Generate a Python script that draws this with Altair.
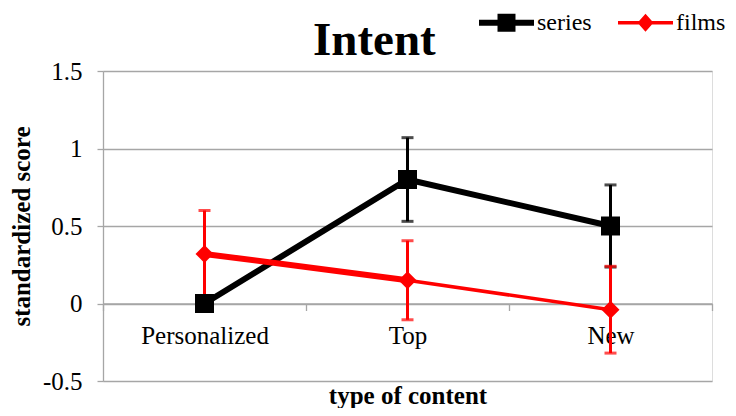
import altair as alt
import pandas as pd

categories = ["Personalized", "Top", "New"]
series_names = ["series", "films"]
series_mean = [0.0, 0.80, 0.50]
series_err = [0.0, 0.27, 0.265]
films_mean = [0.32, 0.15, -0.04]
films_err = [0.28, 0.255, 0.28]
y_ticks = [-0.5, 0, 0.5, 1, 1.5]

rows = []
for name, means, errs in [("series", series_mean, series_err), ("films", films_mean, films_err)]:
    for c, m, e in zip(categories, means, errs):
        rows.append({"type": name, "content": c, "score": m, "lo": m - e, "hi": m + e})
df = pd.DataFrame(rows)

FONT = "Liberation Serif, Times New Roman, serif"
GRID = "#a6a6a6"
W, H = 609, 310

x_axis = alt.Axis(
    title="type of content", orient="bottom", offset=-H * 0.25, tickBand="extent",
    labelAngle=0, labelFont=FONT, labelFontSize=25, labelColor="black", labelPadding=13,
    titleFont=FONT, titleFontSize=25, titleFontWeight="bold", titleColor="black", titlePadding=35,
    domainColor=GRID, domainWidth=1.3, tickColor=GRID, tickWidth=1.3, tickSize=7, grid=False,
)
x = alt.X("content:N", sort=categories,
          scale=alt.Scale(type="band", paddingInner=0, paddingOuter=0), axis=x_axis)

y_axis = alt.Axis(
    title="standardized score", values=y_ticks, labelExpr="'' + datum.value",
    labelFont=FONT, labelFontSize=25, labelColor="black", labelPadding=15,
    titleFont=FONT, titleFontSize=25, titleFontWeight="bold", titleColor="black", titlePadding=8,
    domainColor=GRID, domainWidth=1.3, tickColor=GRID, tickWidth=1.3, tickSize=6,
    grid=True, gridColor=GRID, gridWidth=1.3,
)
y_scale = alt.Scale(domain=[-0.5, 1.5], nice=False, zero=False)
y = alt.Y("score:Q", scale=y_scale, axis=y_axis)
y_lo = alt.Y("lo:Q", scale=y_scale, axis=y_axis)

base = alt.Chart(df)
is_series = alt.datum.type == "series"
is_films = alt.datum.type == "films"

series_err_l = base.transform_filter(is_series).mark_errorbar(
    color="black", thickness=3, size=12, ticks=True).encode(x=x, y=y_lo, y2="hi:Q")
series_line = base.transform_filter(is_series).mark_line(
    color="black", strokeWidth=6).encode(x=x, y=y)
films_err_l = base.transform_filter(is_films).mark_errorbar(
    color="red", thickness=3, size=12, ticks=True).encode(x=x, y=y_lo, y2="hi:Q")
films_line1 = base.transform_filter(is_films).transform_filter(
    alt.FieldOneOfPredicate(field="content", oneOf=["Personalized", "Top"])).mark_line(
    color="red", strokeWidth=6).encode(x=x, y=y)
films_line2 = base.transform_filter(is_films).transform_filter(
    alt.FieldOneOfPredicate(field="content", oneOf=["Top", "New"])).mark_line(
    color="red", strokeWidth=3.5).encode(x=x, y=y)
films_pts = base.transform_filter(is_films).mark_point(
    shape="diamond", filled=True, color="red", size=324, opacity=1).encode(x=x, y=y)
series_pts = base.transform_filter(is_series).mark_point(
    shape="square", filled=True, color="black", size=361, opacity=1).encode(x=x, y=y)

sym_series = "M-1,-0.109H1V0.109H-1Z M-0.327,-0.327H0.327V0.327H-0.327Z"
sym_films = "M-1,-0.064H1V0.064H-1Z M0,-0.33L0.29,0L0,0.33L-0.29,0Z"

# The chart title "Intent" is carried by the legend (title on its left side),
# so that it sits to the left of the legend entries as in the reference.
legend = alt.Legend(
    title="Intent", titleOrient="left", titleFont=FONT, titleFontSize=47, titleFontWeight="bold",
    titleColor="black", titleBaseline="line-top", titleLineHeight=92, titlePadding=43,
    titleAnchor="start", titleLimit=400,
    orient="none", legendX=210, legendY=-76, direction="horizontal",
    labelFont=FONT, labelFontSize=24, labelColor="black", labelOffset=3,
    columnPadding=26, symbolSize=3025, symbolOpacity=1, symbolStrokeWidth=0,
)
legend_layer = base.mark_point(filled=True, opacity=0, size=3025, strokeWidth=0).encode(
    x=x, y=y,
    color=alt.Color("type:N", scale=alt.Scale(domain=series_names, range=["black", "red"]), legend=legend),
    shape=alt.Shape("type:N", scale=alt.Scale(domain=series_names, range=[sym_series, sym_films]), legend=legend),
)

chart = alt.layer(
    series_err_l, series_line, films_err_l, films_line1, films_line2, films_pts, series_pts, legend_layer
).properties(
    width=W, height=H,
    autosize=alt.AutoSizeParams(type="none"),
    padding={"left": 95, "top": 63, "right": 16, "bottom": 27},
).configure_view(stroke=None).configure(background="white")

chart.save("out.html", embed_options={"renderer": "svg", "actions": False})
